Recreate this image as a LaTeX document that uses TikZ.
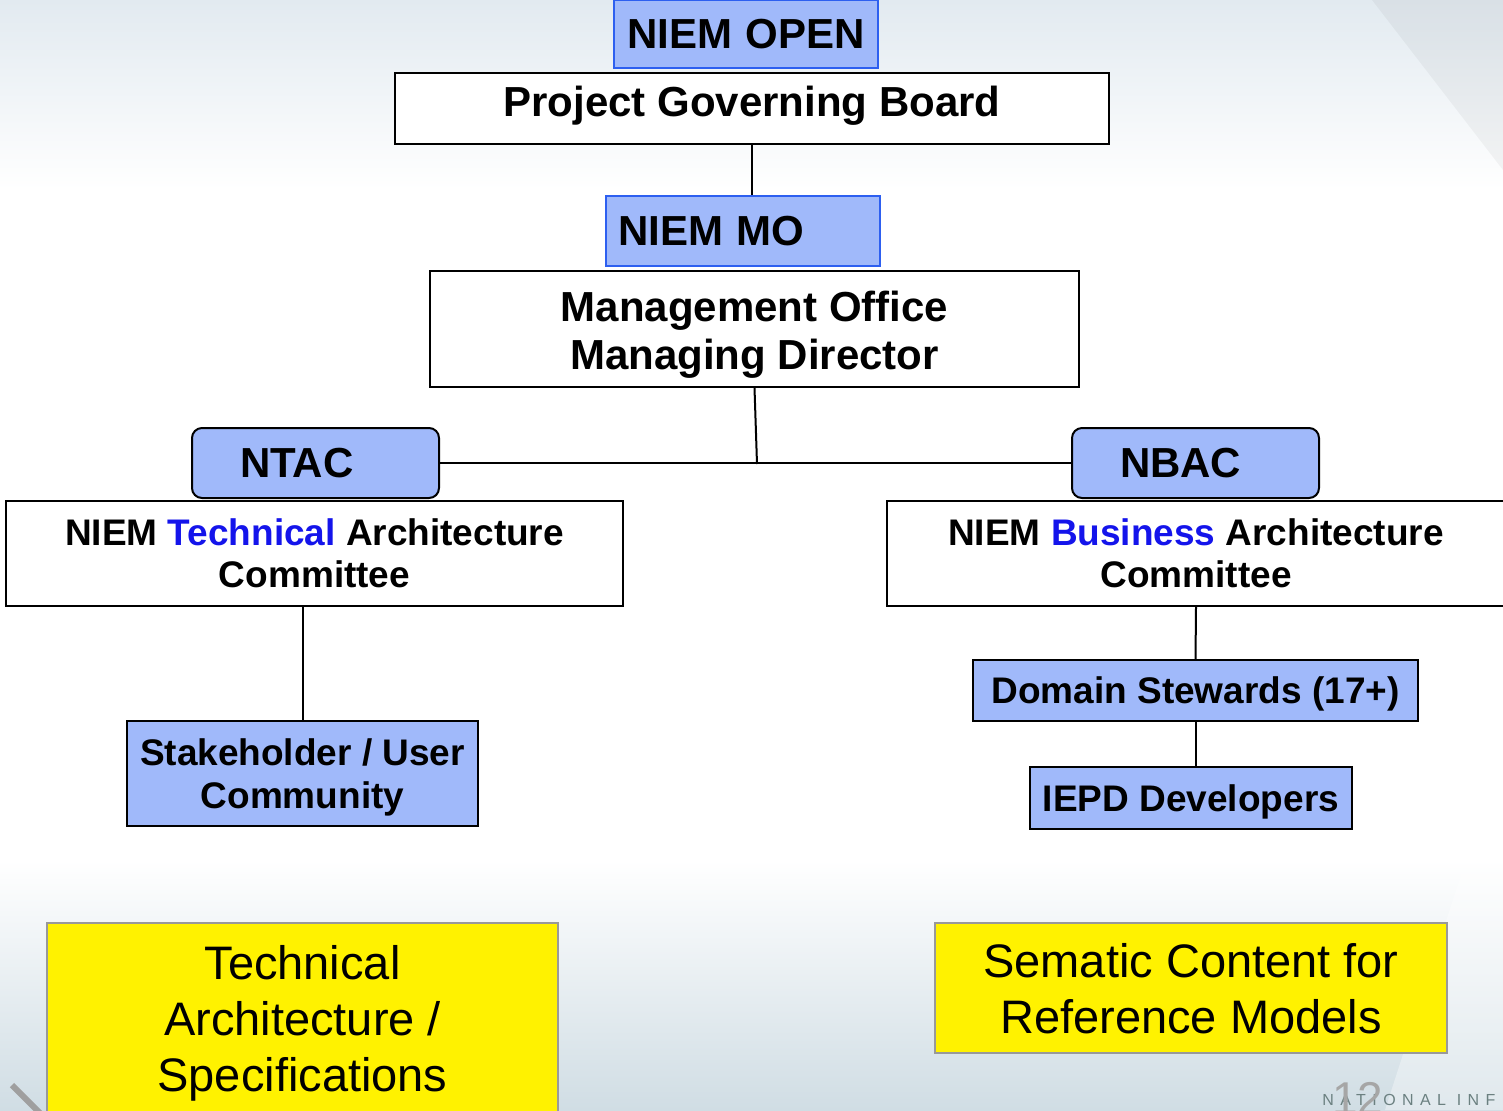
\documentclass[tikz,border=0pt]{standalone}
\usepackage{fontspec}
\setmainfont{Liberation Sans}
\usepackage{tikz}
\usetikzlibrary{positioning}

\definecolor{tagblue}{RGB}{160,185,250}
\definecolor{tagline}{RGB}{45,95,240}
\definecolor{wordblue}{RGB}{20,20,235}
\definecolor{skytop}{RGB}{226,234,240}
\definecolor{skybot}{RGB}{208,221,228}

\begin{document}
\begin{tikzpicture}[x=0.5pt,y=-0.5pt,
    wire/.style={line width=1pt},
    tag/.style={draw=tagline, line width=1pt, fill=tagblue, align=left, inner ysep=0pt,
        font=\bfseries\fontsize{21}{24}\selectfont},
    tagr/.style={draw=black, line width=1pt, fill=tagblue, align=left, inner ysep=0pt,
        rounded corners=5pt, inner xsep=24pt, text width=75.5pt, minimum height=35pt,
        font=\bfseries\fontsize{21}{24}\selectfont},
    board/.style={draw=black, line width=1pt, fill=white, align=center, inner sep=0pt,
        font=\bfseries\fontsize{21}{24}\selectfont},
    cmte/.style={draw=black, line width=0.8pt, fill=white, align=center, inner sep=0pt,
        font=\bfseries\fontsize{18.5}{21}\selectfont},
    unit/.style={draw=black, line width=0.8pt, fill=tagblue, align=center, inner sep=0pt,
        font=\bfseries\fontsize{18.5}{21.5}\selectfont},
    note/.style={draw=gray!80, line width=1pt, fill=yellow, align=center, inner sep=0pt,
        font=\fontsize{23.5}{28}\selectfont}]
    \useasboundingbox (0,0) rectangle (1503,1110);
    \clip (0,0) rectangle (1503,1110);
    % slide background
    \fill[white] (0,0) rectangle (1503,1110);
    \fill[top color=skytop, bottom color=white] (0,0) rectangle (1503,190);
    \fill[top color=white, bottom color=skybot] (0,860) rectangle (1503,1110);
    \fill[black, opacity=0.04] (1372,0) -- (1503,0) -- (1503,170) -- cycle;
    \fill[white, opacity=0.35] (1503,745) -- (1503,1110) -- (1385,1110) -- cycle;
    \draw[gray!75, line width=3pt] (12,1085) -- (40,1113);
    \node[gray!45!teal!30!gray, anchor=base west, inner sep=0pt,
        font=\addfontfeatures{LetterSpace=40}\fontsize{8}{8}\selectfont] (footer) at (1322,1105) {NATIONAL INF};
    \node[gray!70, anchor=base west, inner sep=0pt, font=\fontsize{23}{23}\selectfont] (pageno) at (1332,1114) {12};

    % boxes
    \node[tag, inner xsep=6.5pt, text width=119pt, minimum height=34pt] (open) at (746,34) {\mbox{NIEM OPEN}};
    \node[board, minimum width=357pt, minimum height=35.5pt, text depth=7.5pt] (pgb) at (752,108.5) {Project Governing Board};
    \node[tag, inner xsep=6pt, text width=125pt, minimum height=35pt] (mo) at (743,231) {NIEM MO};
    \node[board, minimum width=324.5pt, minimum height=58pt] (mgmt) at (754.5,329) {\\[-3.5pt]Management Office\\Managing Director};
    \node[tagr] (ntac) at (315.5,463) {NTAC};
    \node[tagr] (nbac) at (1195.5,463) {NBAC};
    \node[cmte, minimum width=308.5pt, minimum height=52.5pt] (tac) at (314.5,553.5)
        {NIEM {\color{wordblue}Technical} Architecture\\Committee};
    \node[cmte, minimum width=309pt, minimum height=52.5pt] (bac) at (1196,553.5)
        {NIEM {\color{wordblue}Business} Architecture\\Committee};
    \node[unit, minimum width=175.5pt, minimum height=52.5pt, text depth=0pt] (stake) at (302.5,773.5) {Stakeholder / User\\Community};
    \node[unit, minimum width=222.5pt, minimum height=30.5pt, text depth=0pt] (dom) at (1195.5,690.5) {Domain Stewards (17+)};
    \node[unit, minimum width=161pt, minimum height=31pt, text depth=0pt] (iepd) at (1191,798) {IEPD Developers};
    \node[note, minimum width=255.5pt, minimum height=95pt, text depth=0pt] (spec) at (302.5,1018) {Technical\\Architecture /\\Specifications};
    \node[note, minimum width=256pt, minimum height=65pt, text depth=0pt] (refm) at (1191,988) {Sematic Content for\\Reference Models};

    % links
    \coordinate (hub) at (757,464);
    \draw[wire] (pgb.south) -- (pgb.south |- mo.north);
    \draw[wire] (mgmt.south) -- (hub);
    \draw[wire] (ntac.east) -- (nbac.west);
    \draw[wire] (stake.north) -- (stake.north |- tac.south);
    \draw[wire] (bac.south) -- (dom.north);
    \draw[wire] (dom.south) -- (dom.south |- iepd.north);
\end{tikzpicture}
\end{document}
